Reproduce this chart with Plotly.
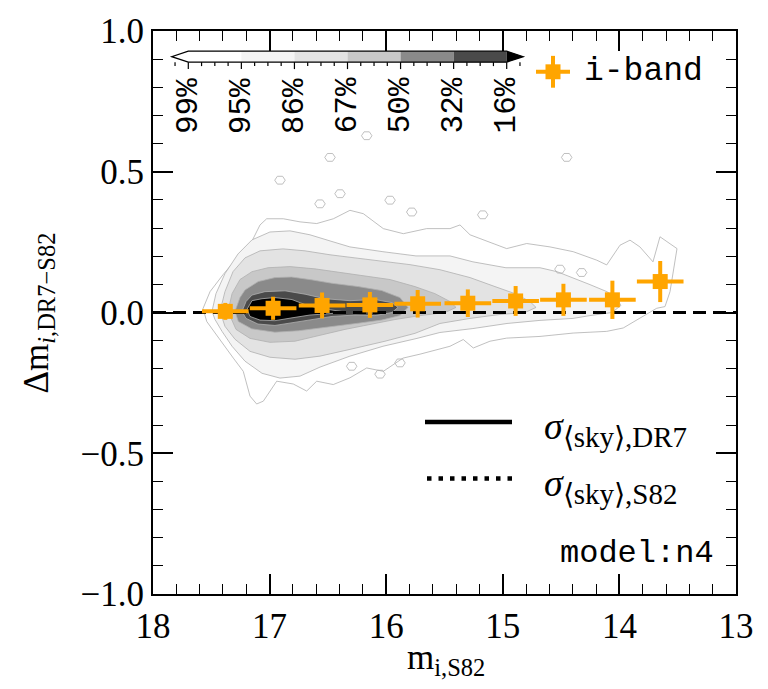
import plotly.graph_objects as go
import numpy as np

# ---------------- data ----------------
# binned i-band offsets (orange points)
bin_m = [17.38, 16.97, 16.55, 16.14, 15.73, 15.30, 14.89, 14.48, 14.06, 13.65]
bin_dm = [0.004, 0.015, 0.025, 0.027, 0.031, 0.033, 0.041, 0.045, 0.045, 0.110]
bin_dm_err = [0.030, 0.041, 0.046, 0.046, 0.049, 0.049, 0.053, 0.057, 0.068, 0.073]
bin_m_err = [0.20, 0.20, 0.20, 0.20, 0.20, 0.20, 0.20, 0.20, 0.20, 0.20]

# density contour outlines (magnitude, delta)
lev99_m = [17.571, 17.511, 17.400, 17.282, 17.168, 17.082, 17.025, 16.883, 16.739, 16.596, 16.453, 16.311,
           16.196, 16.025, 15.853, 15.653, 15.453, 15.367, 15.281, 15.170, 14.967, 14.795, 14.595, 14.396,
           14.195, 14.109, 13.995, 13.909, 13.824, 13.712, 13.652, 13.506, 13.566, 13.609,
           13.680, 13.824, 13.967, 14.109, 14.396, 14.681, 14.967, 15.110, 15.253, 15.339, 15.453, 15.710,
           15.856, 16.025, 16.167, 16.311, 16.454, 16.596, 16.682, 16.797, 16.939, 17.054, 17.111, 17.168,
           17.226, 17.311, 17.454, 17.539]
lev99_d = [0.014, 0.074, 0.134, 0.192, 0.240, 0.311, 0.333, 0.333, 0.322, 0.316, 0.333, 0.363,
           0.351, 0.298, 0.280, 0.298, 0.298, 0.311, 0.276, 0.258, 0.227, 0.245, 0.233, 0.216,
           0.186, 0.169, 0.239, 0.257, 0.233, 0.180, 0.269, 0.227, 0.074, 0.021,
           0.015, -0.020, -0.055, -0.067, -0.073, -0.085, -0.091, -0.102, -0.126, -0.096, -0.120, -0.148,
           -0.162, -0.209, -0.197, -0.232, -0.256, -0.244, -0.279, -0.254, -0.244, -0.315, -0.325, -0.297,
           -0.209, -0.162, -0.079, -0.032]

lev95_m = [17.494, 17.460, 17.383, 17.271, 17.151, 16.997, 16.825, 16.654, 16.456, 16.311, 16.028, 15.745,
           15.453, 15.256, 14.973, 14.681, 14.535, 14.398, 14.252, 14.107, 14.021, 13.987, 14.064, 14.252,
           14.398, 14.681, 14.964, 15.256, 15.539, 15.736, 16.028, 16.311, 16.568, 16.739, 16.911, 17.065,
           17.211, 17.322, 17.408, 17.468]
lev95_d = [0.004, 0.067, 0.138, 0.208, 0.258, 0.286, 0.290, 0.276, 0.251, 0.233, 0.216, 0.201,
           0.201, 0.180, 0.159, 0.159, 0.145, 0.124, 0.099, 0.074, 0.049, 0.025, 0.000, -0.011,
           -0.021, -0.028, -0.039, -0.057, -0.071, -0.092, -0.120, -0.155, -0.194, -0.226, -0.233, -0.216,
           -0.173, -0.120, -0.067, -0.025]

lev86_m = [17.425, 17.383, 17.314, 17.211, 17.082, 16.885, 16.696, 16.482, 16.268, 16.053, 15.796, 15.539,
           15.281, 15.067, 14.896, 14.767, 14.715, 14.810, 15.024, 15.281, 15.539, 15.753, 16.010, 16.311,
           16.568, 16.782, 16.997, 17.168, 17.297, 17.383]
lev86_d = [0.004, 0.074, 0.145, 0.194, 0.219, 0.226, 0.219, 0.205, 0.194, 0.184, 0.170, 0.152,
           0.124, 0.092, 0.067, 0.039, 0.018, 0.000, -0.007, -0.021, -0.039, -0.074, -0.102, -0.131,
           -0.155, -0.166, -0.159, -0.138, -0.095, -0.049]

lev67_m = [17.357, 17.322, 17.254, 17.151, 17.014, 16.825, 16.611, 16.396, 16.182, 15.967, 15.753, 15.582,
           15.453, 15.401, 15.496, 15.710, 15.925, 16.139, 16.353, 16.568, 16.782, 16.997, 17.168, 17.288]
lev67_d = [0.004, 0.067, 0.117, 0.145, 0.159, 0.163, 0.155, 0.143, 0.131, 0.117, 0.092, 0.067,
           0.039, 0.018, 0.000, -0.011, -0.025, -0.042, -0.060, -0.081, -0.102, -0.106, -0.092, -0.060]

lev50_m = [17.297, 17.254, 17.211, 17.097, 16.954, 16.811, 16.639, 16.467, 16.239, 16.039, 15.882, 15.813,
           15.882, 16.039, 16.239, 16.525, 16.754, 16.954, 17.154, 17.268]
lev50_d = [0.004, 0.053, 0.080, 0.110, 0.124, 0.126, 0.116, 0.104, 0.092, 0.078, 0.053, 0.018,
           -0.011, -0.027, -0.038, -0.053, -0.065, -0.070, -0.058, -0.032]

lev32_m = [17.237, 17.202, 17.151, 17.040, 16.868, 16.696, 16.525, 16.311, 16.096, 15.950, 15.899, 15.950,
           16.096, 16.268, 16.465, 16.636, 16.808, 16.954, 17.100, 17.202]
lev32_d = [0.004, 0.039, 0.062, 0.074, 0.077, 0.065, 0.049, 0.042, 0.046, 0.035, 0.018, 0.000,
           -0.011, -0.009, -0.014, -0.026, -0.038, -0.046, -0.041, -0.021]

lev16_m = [17.194, 17.151, 17.065, 16.954, 16.808, 16.696, 16.585, 16.439, 16.353, 16.482, 16.654, 16.808,
           16.954, 17.082, 17.168]
lev16_d = [0.011, 0.042, 0.049, 0.053, 0.046, 0.028, 0.016, 0.007, 0.002, -0.004, -0.009, -0.019,
           -0.029, -0.027, -0.014]

# small isolated outer-level contour loops
island_m = [16.167, 16.482, 16.911, 16.396, 16.568, 15.967, 15.781, 15.172, 14.510, 14.324, 16.296, 15.882, 16.053, 14.452]
island_d = [0.628, 0.551, 0.470, 0.422, 0.386, 0.399, 0.357, 0.347, 0.154, 0.142, -0.191, -0.179, -0.219, 0.551]

level_labels = ["99%", "95%", "86%", "67%", "50%", "32%", "16%"]
level_fills = ["#ffffff", "#f4f4f4", "#e3e3e3", "#c8c8c8", "#8a8a8a", "#4a4a4a", "#000000"]
cb_colors = ["#ffffff", "#f4f4f4", "#e3e3e3", "#c8c8c8", "#8a8a8a", "#4a4a4a"]

x_range = [18, 13]
y_range = [-1, 1]

# ---------------- layout constants (pixels) ----------------
L, R, T, B = 153, 736, 28, 594
W, H = R - L, B - T
def px(x):
    return (x - L) / W
def py(y):
    return (B - y) / H

SERIF = "Liberation Serif"
MONO = "Liberation Mono"
ORANGE = "#FFA500"
LINEGRAY = "#b0b0b0"

fig = go.Figure()

levels = [(lev99_m, lev99_d), (lev95_m, lev95_d), (lev86_m, lev86_d), (lev67_m, lev67_d),
          (lev50_m, lev50_d), (lev32_m, lev32_d), (lev16_m, lev16_d)]
for (mm, dd), col in zip(levels, level_fills):
    fig.add_trace(go.Scatter(x=mm + mm[:1], y=dd + dd[:1], mode="lines", fill="toself",
                             fillcolor=col, line=dict(color=LINEGRAY, width=0.8),
                             hoverinfo="skip", showlegend=False))

# isolated small loops
t = np.linspace(0, 2 * np.pi, 7)
for cm, cd in zip(island_m, island_d):
    fig.add_trace(go.Scatter(x=list(cm + 0.045 * np.cos(t)), y=list(cd + 0.016 * np.sin(t)),
                             mode="lines", line=dict(color=LINEGRAY, width=0.8),
                             hoverinfo="skip", showlegend=False))

# zero reference line
fig.add_trace(go.Scatter(x=x_range, y=[0, 0], mode="lines",
                         line=dict(color="black", width=3, dash="13px,7px"),
                         hoverinfo="skip", showlegend=False))

# binned points
fig.add_trace(go.Scatter(
    x=bin_m, y=bin_dm, mode="markers",
    marker=dict(symbol="square", size=15, color=ORANGE, line=dict(width=0)),
    error_x=dict(type="data", array=bin_m_err, color=ORANGE, thickness=4, width=0),
    error_y=dict(type="data", array=bin_dm_err, color=ORANGE, thickness=4, width=0),
    name="i-band", showlegend=False))

shapes = []
annotations = []

# ---------------- colour bar (top-left) ----------------
cb_x0, cb_x1 = 188.3, 506.7
cb_y0, cb_y1 = 48.3, 59.3
seg = (cb_x1 - cb_x0) / len(cb_colors)
for i, c in enumerate(cb_colors):
    shapes.append(dict(type="rect", xref="paper", yref="paper",
                       x0=px(cb_x0 + i * seg), x1=px(cb_x0 + (i + 1) * seg),
                       y0=py(cb_y1), y1=py(cb_y0), fillcolor=c, line=dict(width=0), layer="above"))
cy = (cb_y0 + cb_y1) / 2
shapes.append(dict(type="path", xref="paper", yref="paper",
                   path=f"M {px(cb_x0)} {py(cb_y0)} L {px(171.7)} {py(cy)} L {px(cb_x0)} {py(cb_y1)} Z",
                   fillcolor="#ffffff", line=dict(width=0), layer="above"))
shapes.append(dict(type="path", xref="paper", yref="paper",
                   path=f"M {px(cb_x1)} {py(cb_y0)} L {px(523.3)} {py(cy)} L {px(cb_x1)} {py(cb_y1)} Z",
                   fillcolor="#000000", line=dict(width=0), layer="above"))
shapes.append(dict(type="path", xref="paper", yref="paper",
                   path=(f"M {px(cb_x0)} {py(cb_y0)} L {px(cb_x1)} {py(cb_y0)} L {px(523.3)} {py(cy)} "
                         f"L {px(cb_x1)} {py(cb_y1)} L {px(cb_x0)} {py(cb_y1)} L {px(171.7)} {py(cy)} Z"),
                   line=dict(color="black", width=1.2), layer="above"))
for k in range(-1, 4 * len(cb_colors) + 2):
    xt = cb_x0 + k * seg / 4
    ln = 7 if k % 4 == 0 and 0 <= k <= 4 * len(cb_colors) else 4
    shapes.append(dict(type="line", xref="paper", yref="paper", x0=px(xt), x1=px(xt),
                       y0=py(cb_y1), y1=py(cb_y1 + ln), line=dict(color="black", width=1.2), layer="above"))
for i, lab in enumerate(level_labels):
    annotations.append(dict(xref="paper", yref="paper", x=px(cb_x0 + i * seg), y=py(73),
                            text=lab, showarrow=False, textangle=-90, xanchor="center", yanchor="top",
                            font=dict(family=MONO, size=31, color="black")))

# ---------------- i-band legend ----------------
lx, ly = 553, 69
shapes.append(dict(type="line", xref="paper", yref="paper", x0=px(lx - 17), x1=px(lx + 17),
                   y0=py(ly), y1=py(ly), line=dict(color=ORANGE, width=4), layer="above"))
shapes.append(dict(type="line", xref="paper", yref="paper", x0=px(lx), x1=px(lx),
                   y0=py(ly - 16), y1=py(ly + 16), line=dict(color=ORANGE, width=4), layer="above"))
shapes.append(dict(type="rect", xref="paper", yref="paper", x0=px(lx - 7.5), x1=px(lx + 7.5),
                   y0=py(ly + 7.5), y1=py(ly - 7.5), fillcolor=ORANGE, line=dict(width=0), layer="above"))
annotations.append(dict(xref="paper", yref="paper", x=px(582), y=py(ly), text="i-band",
                        showarrow=False, xanchor="left", yanchor="middle",
                        font=dict(family=MONO, size=33, color="black")))

# ---------------- sigma legend ----------------
shapes.append(dict(type="line", xref="paper", yref="paper", x0=px(425), x1=px(512),
                   y0=py(421), y1=py(421), line=dict(color="black", width=4.5), layer="above"))
shapes.append(dict(type="line", xref="paper", yref="paper", x0=px(427), x1=px(512),
                   y0=py(478), y1=py(478), line=dict(color="black", width=4.5, dash="4.5px,7px"), layer="above"))
sub_style = "font-size:29px"
annotations.append(dict(xref="paper", yref="paper", x=px(542), y=py(428),
                        text=f"<i>σ</i><sub><span style='{sub_style}'>⟨sky⟩,DR7</span></sub>",
                        showarrow=False, xanchor="left", yanchor="middle",
                        font=dict(family=SERIF, size=38, color="black")))
annotations.append(dict(xref="paper", yref="paper", x=px(542), y=py(485),
                        text=f"<i>σ</i><sub><span style='{sub_style}'>⟨sky⟩,S82</span></sub>",
                        showarrow=False, xanchor="left", yanchor="middle",
                        font=dict(family=SERIF, size=38, color="black")))
annotations.append(dict(xref="paper", yref="paper", x=px(716), y=py(553), text="model:n4",
                        showarrow=False, xanchor="right", yanchor="middle",
                        font=dict(family=MONO, size=32, color="black")))

# ---------------- axis titles ----------------
annotations.append(dict(xref="paper", yref="paper", x=px(446), y=py(660),
                        text="m<sub>i,S82</sub>", showarrow=False, xanchor="center", yanchor="middle",
                        font=dict(family=SERIF, size=35, color="black")))
annotations.append(dict(xref="paper", yref="paper", x=px(38), y=py(312),
                        text="Δm<sub><i>i</i>,DR7−S82</sub>", showarrow=False, textangle=-90,
                        xanchor="center", yanchor="middle",
                        font=dict(family=SERIF, size=35, color="black")))

axis_common = dict(showgrid=False, zeroline=False, showline=True, linewidth=2, linecolor="black",
                   mirror="allticks", ticks="inside", ticklen=20, tickwidth=1.6, tickcolor="black",
                   tickfont=dict(family=SERIF, size=35, color="black"))

fig.update_layout(
    width=768, height=689,
    margin=dict(l=L, r=768 - R, t=T, b=689 - B),
    plot_bgcolor="white", paper_bgcolor="white",
    showlegend=False,
    xaxis=dict(range=x_range, tick0=13, dtick=1, tickformat="d",
               minor=dict(ticks="inside", ticklen=10, tickwidth=1.2, tickcolor="black", dtick=0.2, showgrid=False),
               **axis_common),
    yaxis=dict(range=y_range, tick0=0, dtick=0.5, tickformat=".1f",
               minor=dict(ticks="inside", ticklen=10, tickwidth=1.2, tickcolor="black", dtick=0.1, showgrid=False),
               **axis_common),
    shapes=shapes,
    annotations=annotations,
)

fig.write_html("out.html")
